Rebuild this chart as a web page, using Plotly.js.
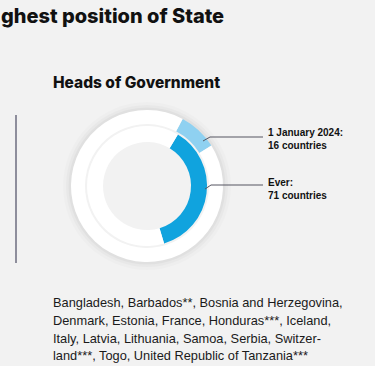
<!DOCTYPE html>
<html>
<head>
<meta charset="utf-8">
<script src="https://cdn.plot.ly/plotly-3.0.1.min.js"></script>
<style>
  html, body { margin: 0; padding: 0; background: #f2f2f2; }
  #chart { width: 375px; height: 366px; }
</style>
</head>
<body>
<div id="chart"></div>
<script>
// ---- data ----
const ringNames = ['1 January 2024', 'Ever'];
const ringCounts = [16, 71];          // countries
const totalCountries = 193;           // UN member states (rest of each ring)
const ringLabelText = ['1 January 2024:<br>16 countries', 'Ever:<br>71 countries'];
const countryList = [
  'Bangladesh, Barbados**, Bosnia and Herzegovina,',
  'Denmark, Estonia, France, Honduras***, Iceland,',
  'Italy, Latvia, Lithuania, Samoa, Serbia, Switzer-',
  'land***, Togo, United Republic of Tanzania***'
];
const headerText = 'ghest position of State';
const subTitle = 'Heads of Government';

// ---- geometry (pixels) ----
const W = 375, H = 366;
const cx = 147, cy = 186;
const px = x => x / W;
const py = y => 1 - y / H;

function dom(r) {
  return { x: [px(cx - r), px(cx + r)], y: [py(cy + r), py(cy - r)] };
}

const outerR = 76, outerHole = 62;
const innerR = 60, innerHole = 44;

const traces = [
  {
    type: 'pie',
    values: [ringCounts[0], totalCountries - ringCounts[0]],
    labels: [ringNames[0], 'other'],
    marker: { colors: ['#8fd1f1', '#ffffff'], line: { width: 0 } },
    hole: outerHole / outerR,
    domain: dom(outerR),
    sort: false,
    direction: 'clockwise',
    rotation: 28,
    textinfo: 'none',
    hoverinfo: 'label+value'
  },
  {
    type: 'pie',
    values: [ringCounts[1], totalCountries - ringCounts[1]],
    labels: [ringNames[1], 'other'],
    marker: { colors: ['#10a3de', '#ffffff'], line: { width: 0 } },
    hole: innerHole / innerR,
    domain: dom(innerR),
    sort: false,
    direction: 'clockwise',
    rotation: 31,
    textinfo: 'none',
    hoverinfo: 'label+value'
  }
];

const shapes = [];
function circ(r, fill) {
  shapes.push({
    type: 'circle', xref: 'paper', yref: 'paper', layer: 'below',
    x0: px(cx - r), x1: px(cx + r), y0: py(cy + r), y1: py(cy - r),
    fillcolor: fill, line: { width: 0 }
  });
}
// soft shadow around outer ring
circ(84, 'rgba(0,0,0,0.015)');
circ(81, 'rgba(0,0,0,0.022)');
circ(78.5, 'rgba(0,0,0,0.03)');
// keep the inside of the rings the page colour
circ(70, '#f2f2f2');

// left vertical rule
shapes.push({ type: 'line', xref: 'paper', yref: 'paper',
  x0: px(16), x1: px(16), y0: py(115), y1: py(263),
  line: { color: '#8e8e9c', width: 2 } });
// leader lines
const leaders = [
  [[203, 141], [210, 137], [263, 137]],
  [[205, 189], [211, 185], [263, 185]]
];
leaders.forEach(pts => {
  for (let i = 0; i < pts.length - 1; i++) {
    shapes.push({ type: 'line', xref: 'paper', yref: 'paper',
      x0: px(pts[i][0]), y0: py(pts[i][1]), x1: px(pts[i + 1][0]), y1: py(pts[i + 1][1]),
      line: { color: '#555560', width: 1 } });
  }
});

const annotations = [
  { text: headerText, x: px(-1), y: py(16), xanchor: 'left', yanchor: 'middle',
    font: { family: 'Inter, DejaVu Sans', size: 20, color: '#111', weight: 800 } },
  { text: subTitle, x: px(51), y: py(82), xanchor: 'left', yanchor: 'middle',
    font: { family: 'Inter, DejaVu Sans', size: 15.5, color: '#111', weight: 800 } },
  { text: ringLabelText[0], x: px(266), y: py(139.5), xanchor: 'left', yanchor: 'middle', align: 'left',
    font: { family: 'Liberation Sans, Arial', size: 10, color: '#111', weight: 700 } },
  { text: ringLabelText[1], x: px(266), y: py(189), xanchor: 'left', yanchor: 'middle', align: 'left',
    font: { family: 'Liberation Sans, Arial', size: 10, color: '#111', weight: 700 } }
];
const lineYs = [302, 320, 338, 355];
countryList.forEach((t, i) => {
  annotations.push({ text: t, x: px(51), y: py(lineYs[i]), xanchor: 'left', yanchor: 'middle',
    font: { family: 'Liberation Sans, Arial', size: 12.8, color: '#1a1a1a' } });
});
annotations.forEach(a => { a.xref = 'paper'; a.yref = 'paper'; a.showarrow = false; });

const layout = {
  width: W, height: H,
  margin: { l: 0, r: 0, t: 0, b: 0 },
  paper_bgcolor: '#f2f2f2',
  plot_bgcolor: '#f2f2f2',
  showlegend: false,
  shapes: shapes,
  annotations: annotations
};

Plotly.newPlot('chart', traces, layout, { displayModeBar: false, staticPlot: true });
</script>
</body>
</html>
